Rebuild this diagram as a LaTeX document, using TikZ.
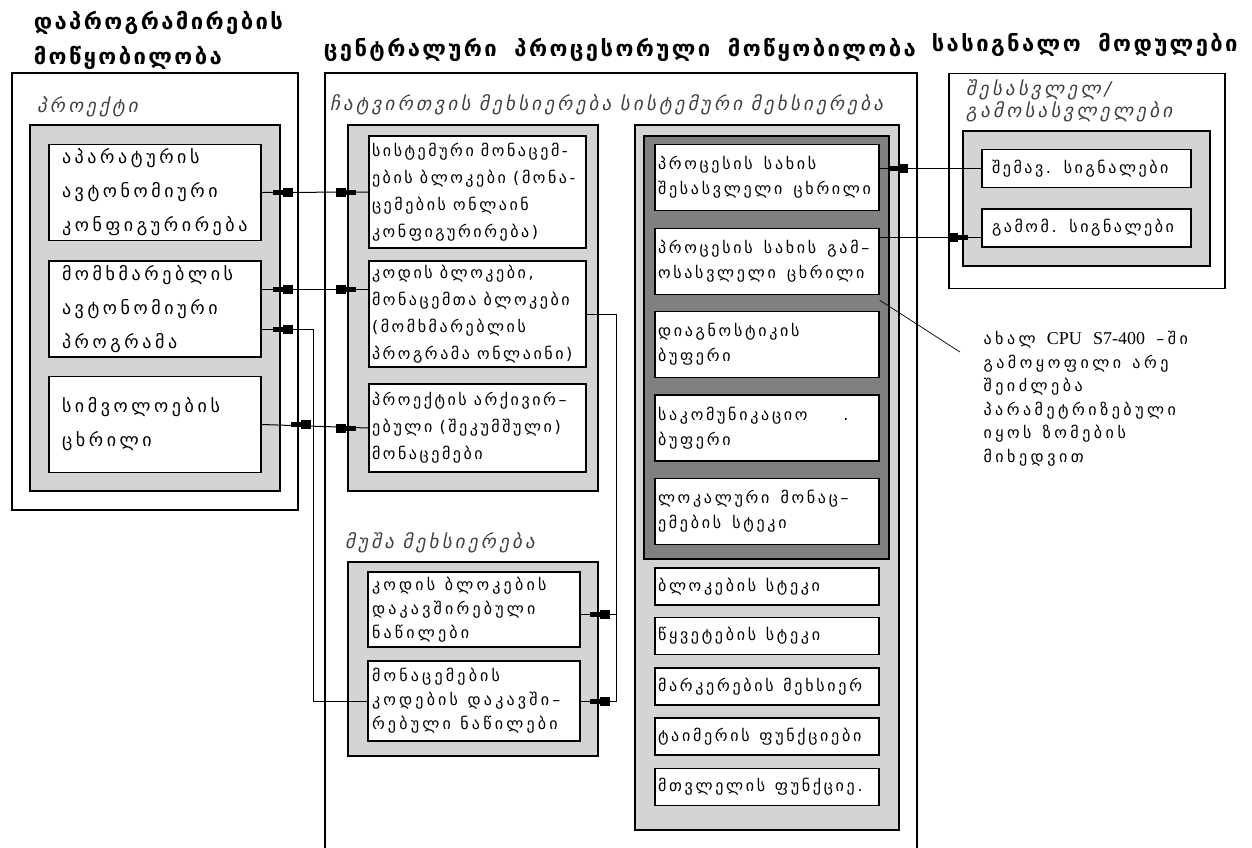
\documentclass[tikz,border=0pt]{standalone}
\usepackage{fontspec}
\setmainfont{DejaVu Sans}
\newfontfamily\geoit[FakeSlant=0.2]{DejaVu Sans}
\newfontfamily\latinserif{Liberation Serif}

% plug drawn to the right of a connection point
\newcommand\plugright[2][11]{%
	\fill ([xshift=#1pt,yshift=2.5pt]#2) rectangle ++(10,5);
	\fill ([xshift=#1pt+10pt,yshift=4.5pt]#2) rectangle ++(10,9);}
% plug drawn to the left of a connection point
\newcommand\plugleft[2][12]{%
	\fill ([xshift=-#1pt-10pt,yshift=2.5pt]#2) rectangle ++(10,5);
	\fill ([xshift=-#1pt-20pt,yshift=4.5pt]#2) rectangle ++(10,9);}
% spaced text: size, line skip, letter space, word space
\newcommand\spaced[4]{\fontsize{#1}{#2}\selectfont\addfontfeatures{LetterSpace=#3}%
	\spaceskip=#4\relax\exhyphenpenalty=10000\relax}

\begin{document}
\begin{tikzpicture}[x=1pt, y=-1pt, line width=1pt,
		frame/.style={draw, line width=1.2pt},
		lightshade/.style={draw, line width=1.4pt, fill=black!17},
		darkshade/.style={draw, line width=1.4pt, fill=black!50},
		item/.style 2 args={draw, line width=1.4pt, fill=white, minimum width=#1, minimum height=#2,
			inner ysep=0pt, align=flush left},
		title/.style={anchor=west, align=left, font=\bfseries\spaced{22}{35}{11}{0.8em}},
		caption/.style={anchor=west, align=left, text=black!75, font=\geoit\spaced{19}{22}{17}{0.45em}}]
	\useasboundingbox (0,0) rectangle (1252,847);

	% titles
	\node[title] (tprog) at (30,40) {დაპროგრამირების\\მოწყობილობა};
	\node[title] (tcpu) at (320,50) {ცენტრალური პროცესორული მოწყობილობა};
	\node[title] (tsig) at (928,45) {სასიგნალო მოდულები};

	% programming device
	\node[frame, minimum width=286, minimum height=437] (prog) at (155,291.5) {};
	\node[caption] (cproj) at (33,107) {პროექტი};
	\node[lightshade, minimum width=250, minimum height=366] (proj) at (155,308) {};
	\begin{scope}[every node/.style={item={212}{96}, inner xsep=13pt, text width=186,
			font=\spaced{18}{34}{20}{0.45em}}]
		\node (l1) at (155,192.5) {აპარატურის\\ავტონომიური\\კონფიგურირება};
		\node (l2) at (155,309) {მომხმარებლის\\ავტონომიური\\პროგრამა};
		\node (l3) at (155,424.5) {სიმვოლოების\\ცხრილი};
	\end{scope}

	% cpu
	\draw[line width=1.2pt] (325,850) |- (917,73) -- (917,850);
	\node[caption] (cload) at (326,105) {ჩატვირთვის მეხსიერება სისტემური მეხსიერება};
	\node[lightshade, minimum width=250, minimum height=366] (load) at (473,308) {};
	\begin{scope}[every node/.style={item={217}{100}, inner xsep=3pt, text width=211,
			font=\spaced{16}{27}{16}{0.45em}}]
		\node[minimum height=112] (m1) at (477.5,192) {სისტემური~მონაცემ-\\ების~ბლოკები~(მონა-\\ცემების~ონლაინ\\კონფიგურირება)};
		\node[minimum height=106] (m2) at (477.5,314) {კოდის~ბლოკები,\\მონაცემთა~ბლოკები\\(მომხმარებლის\\პროგრამა~ონლაინი)};
		\node[minimum height=88] (m3) at (477.5,428) {პროექტის~არქივირ–\\ებული~(შეკუმშული)\\მონაცემები};
	\end{scope}
	\node[caption] (cwork) at (341,543) {მუშა მეხსიერება};
	\node[lightshade, minimum width=250, minimum height=194] (work) at (473,659) {};
	\begin{scope}[every node/.style={item={212}{75}, inner xsep=4pt, text width=204,
			font=\spaced{16}{24}{20}{0.6em}}]
		\node (w1) at (474,609.5) {კოდის~ბლოკების\\დაკავშირებული\\ნაწილები};
		\node[minimum height=80] (w2) at (474,701) {მონაცემების\\კოდების~დაკავში–\\რებული~ნაწილები};
	\end{scope}

	\node[lightshade, minimum width=264, minimum height=705] (sys) at (767,477.5) {};
	\node[darkshade, minimum width=245, minimum height=423] (img) at (766.5,347.5) {};
	\begin{scope}[every node/.style={item={224}{66}, inner xsep=3pt, text width=218,
			font=\spaced{16}{25}{17}{0.7em}}]
		\node (c1) at (767,177.5) {პროცესის~სახის\\შესასვლელი~ცხრილი};
		\node (c2) at (767,261.5) {პროცესის~სახის~გამ–\\ოსასვლელი~ცხრილი};
		\node (c3) at (767,344.5) {დიაგნოსტიკის\\ბუფერი};
		\node (c4) at (767,428) {საკომუნიკაციო\hspace{36pt}.\\ბუფერი};
		\node (c5) at (767,511.5) {ლოკალური~მონაც–\\ემების~სტეკი};
	\end{scope}
	\begin{scope}[every node/.style={item={224}{37}, inner xsep=3pt, text width=218,
			font=\spaced{16}{25}{17}{0.6em}}]
		\node (b1) at (767,586.5) {ბლოკების~სტეკი};
		\node (b2) at (767,636) {წყვეტების~სტეკი};
		\node (b3) at (767,686.5) {მარკერების~მეხსიერ};
		\node (b4) at (767,736.5) {ტაიმერის~ფუნქციები};
		\node (b5) at (767,787) {მთვლელის~ფუნქციე.};
	\end{scope}

	% signal modules
	\node[frame, minimum width=276, minimum height=215] (sig) at (1087,181) {};
	\node[caption] (cio) at (962,101) {შესასვლელ/\\გამოსასვლელები};
	\node[lightshade, minimum width=247, minimum height=135] (io) at (1086.5,198.5) {};
	\begin{scope}[every node/.style={item={209}{38}, inner xsep=10pt, text width=189,
			font=\spaced{16}{25}{16}{0.8em}}]
		\node (s1) at (1086.5,168.5) {შემავ.~სიგნალები};
		\node (s2) at (1086.5,228) {გამომ.~სიგნალები};
	\end{scope}

	% note
	\node[anchor=north west, align=left, inner sep=0pt, font=\spaced{16}{23.5}{22}{0.7em}] (note) at (983,331)
		{ახალ {\latinserif\fontsize{18}{23.5}\selectfont CPU S7-400} –ში\\გამოყოფილი არე\\შეიძლება\\პარამეტრიზებული\\იყოს ზომების\\მიხედვით};
	\coordinate (notetip) at (960,352);

	% connection points
	\coordinate (l2a) at ([yshift=20pt]l2.east);
	\coordinate (l2b) at ([yshift=-20pt]l2.east);
	\coordinate (m2a) at ([yshift=25pt]m2.west);
	\coordinate (w1a) at ([yshift=-5pt]w1.east);
	\coordinate (c1a) at (s1.west -| c1.east);
	\coordinate (s2a) at ([yshift=-9pt]s2.west);

	% programming device to load memory
	\draw (l1.east) -- (m1.west);
	\draw (l2a) -- (m2a);
	\draw (l3.east) -- (m3.west);
	\draw (l2b) -- ++(52,0) |- (w2.west);
	\plugright{l1.east} \plugleft{m1.west}
	\plugright{l2a} \plugleft{m2a}
	\plugright{l2b}
	\plugright[29]{l3.east} \plugleft{m3.west}

	% load memory to work memory
	\draw (m2.east) -- ++(30,0) |- (w2.east);
	\draw (w1a) -- ++(36,0);
	\plugright[9]{w1a} \plugright[9]{w2.east}

	% process image to signal modules
	\draw (c1a) -- (s1.west);
	\draw (s2a) -- (s2a -| c2.east);
	\plugright[8]{c1a} \plugleft[13]{s2a}

	\draw[line width=0.7pt] ([yshift=-5pt]c2.south east) -- (notetip);
\end{tikzpicture}
\end{document}
